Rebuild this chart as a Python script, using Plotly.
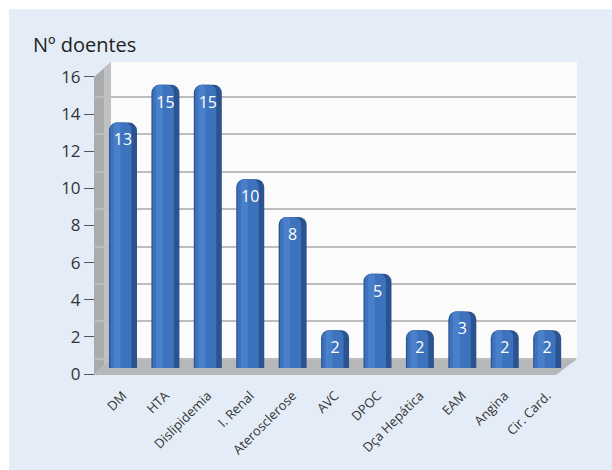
import plotly.graph_objects as go

categories = ["DM", "HTA", "Dislipidemia", "I. Renal", "Aterosclerose", "AVC",
              "DPOC", "Dça Hepática", "EAM", "Angina", "Cir. Card."]
values = [13, 15, 15, 10, 8, 2, 5, 2, 3, 2, 2]
y_ticks = [0, 2, 4, 6, 8, 10, 12, 14, 16]
y_title = "Nº doentes"

W, H = 612, 470
L, R, T, B = 95, 576, 61, 376  # plot area in pixels


def px(p):
    return (p - L) / (R - L)


def py(p):
    return (B - p) / (B - T)


FONT = "Open Sans"
fig = go.Figure()

# cylinder-like bars built from overlaid bars
fig.add_trace(go.Bar(x=categories, y=values, yaxis="y3", width=0.66, offset=-0.33,
                     marker=dict(color="#2b5390", cornerradius=8, line=dict(width=0)),
                     hoverinfo="skip", showlegend=False))
fig.add_trace(go.Bar(x=categories, y=values, yaxis="y3", width=0.5, offset=-0.30,
                     marker=dict(color="#3d72bc", cornerradius=7, line=dict(width=0)),
                     hoverinfo="skip", showlegend=False))
fig.add_trace(go.Bar(x=categories, y=values, yaxis="y3", width=0.16, offset=-0.22,
                     marker=dict(color="#4a80c9", cornerradius=3, line=dict(width=0)),
                     hoverinfo="skip", showlegend=False))
fig.add_trace(go.Scatter(x=categories, y=[v - 1.0 for v in values], yaxis="y3",
                         mode="text", text=[str(v) for v in values],
                         textfont=dict(color="white", size=16, family=FONT),
                         hoverinfo="skip", showlegend=False))
# anchors for the other axes
fig.add_trace(go.Scatter(x=[categories[0]], y=[0], mode="markers", marker=dict(opacity=0),
                         hoverinfo="skip", showlegend=False))
fig.add_trace(go.Scatter(x=[categories[0]], y=[0], yaxis="y2", mode="markers",
                         marker=dict(opacity=0), hoverinfo="skip", showlegend=False))

shapes = [
    # light blue panel
    dict(type="rect", xref="paper", yref="paper", x0=px(9), x1=px(W + 5), y0=py(9), y1=py(H + 5),
         fillcolor="#e4edf7", line=dict(width=0), layer="below"),
    # back wall
    dict(type="rect", xref="paper", yref="paper", x0=px(111), x1=px(577), y0=py(62), y1=py(361),
         fillcolor="#fbfbfb", line=dict(width=0), layer="below"),
    # side wall
    dict(type="path", xref="paper", yref="paper",
         path=f"M {px(94)} {py(77)} L {px(111)} {py(62)} L {px(111)} {py(361)} L {px(94)} {py(377)} Z",
         fillcolor="#a9abad", line=dict(width=0), layer="between"),
    dict(type="path", xref="paper", yref="paper",
         path=f"M {px(104)} {py(68)} L {px(111)} {py(62)} L {px(111)} {py(361)} L {px(104)} {py(368)} Z",
         fillcolor="#bfc1c3", line=dict(width=0), layer="between"),
    # floor
    dict(type="path", xref="paper", yref="paper",
         path=f"M {px(94)} {py(377)} L {px(111)} {py(361)} L {px(577)} {py(361)} L {px(556)} {py(377)} Z",
         fillcolor="#b5b7b9", line=dict(width=0), layer="between"),
]

fig.update_layout(
    width=W, height=H,
    margin=dict(l=L, r=W - R, t=T, b=H - B),
    paper_bgcolor="white", plot_bgcolor="rgba(0,0,0,0)",
    barmode="overlay",
    shapes=shapes,
    xaxis=dict(type="category", range=[-0.66, 10.68], showgrid=False, zeroline=False,
               showline=False, ticks="outside", ticklen=8, tickcolor="rgba(0,0,0,0)",
               tickangle=-45, tickfont=dict(size=13, color="#333333", family=FONT)),
    yaxis=dict(range=[0, (B - T) / 18.69], tickvals=y_ticks, showgrid=False, zeroline=False,
               showline=False, ticks="outside", ticklen=10, tickwidth=1, tickcolor="#555555",
               tickfont=dict(size=17, color="#333333", family=FONT)),
    yaxis2=dict(overlaying="y", range=[-(B - 360.7) / 18.83, (360.7 - T) / 18.83],
                tickvals=y_ticks, showgrid=True, gridcolor="#bdbdbd", gridwidth=2,
                showticklabels=False, ticks="", zeroline=False, showline=False),
    yaxis3=dict(overlaying="y", range=[-(B - 370) / 19.0, (370 - T) / 19.0], visible=False,
                showgrid=False, zeroline=False),
    annotations=[dict(text=y_title, xref="paper", yref="paper", x=px(31), y=py(44),
                      xanchor="left", yanchor="middle", showarrow=False,
                      font=dict(size=20, color="#222222", family=FONT))],
)

fig.write_html("out.html")
